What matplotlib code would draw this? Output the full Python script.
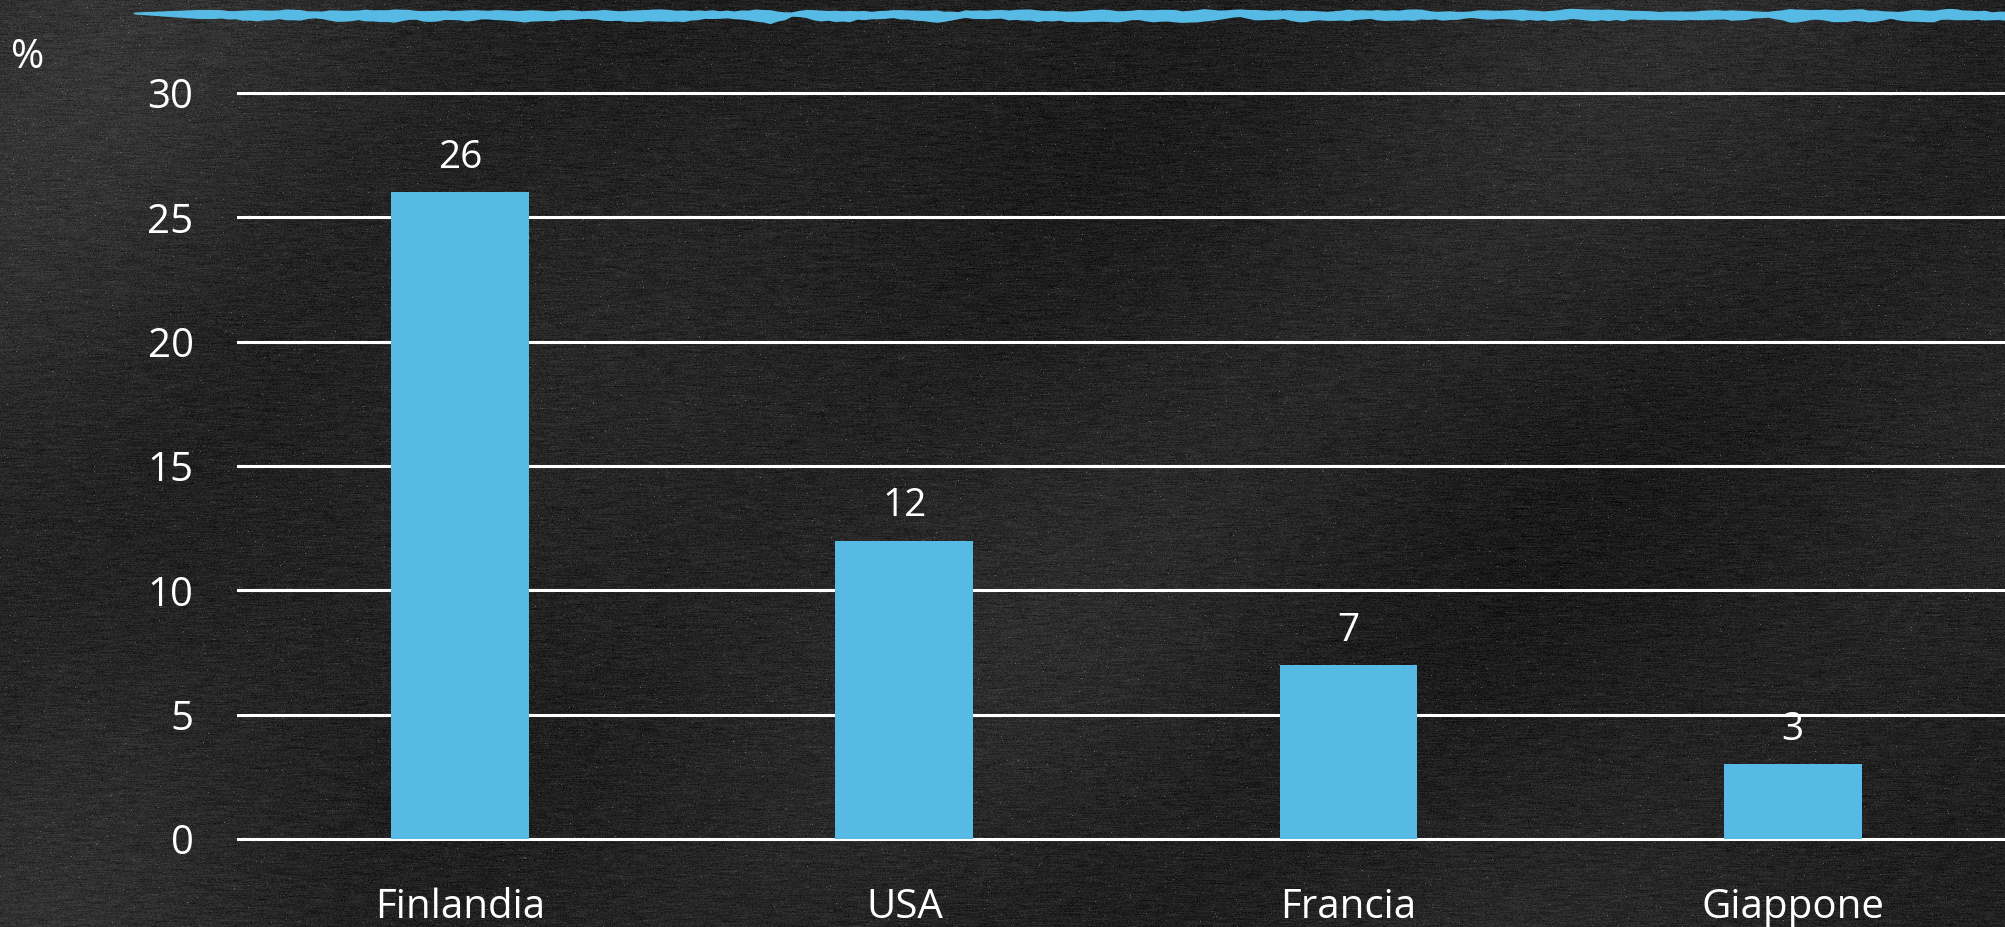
#!/usr/bin/env python3
"""Bar chart on a chalkboard background: share (%) by country."""

import matplotlib

matplotlib.use("Agg")
import matplotlib.pyplot as plt
import numpy as np

countries = ["Finlandia", "USA", "Francia", "Giappone"]
values = [26, 12, 7, 3]
y_ticks = [0, 5, 10, 15, 20, 25, 30]

BAR_COLOR = "#56BAE4"
FONT = ["Open Sans", "DejaVu Sans"]
W, H, DPI = 2006, 927, 100


def chalkboard(rng: np.random.Generator) -> np.ndarray:
    """Dark streaky board texture (grey levels in 0..1)."""
    noise = rng.normal(0.0, 1.0, (H, W))
    # smear along x to get horizontal chalk streaks
    k = np.ones(13) / 13.0
    streak = np.apply_along_axis(lambda r: np.convolve(r, k, mode="same"), 1, noise)
    fine = rng.normal(0.0, 1.0, (H, W))
    yy, xx = np.mgrid[0:H, 0:W]
    blotch = (0.025 * np.sin(xx / 230.0 + 0.7) * np.cos(yy / 170.0 - 0.4)
              + 0.015 * np.sin((xx + yy) / 120.0))
    left_glow = 0.035 * np.exp(-((xx - 40) / 200.0) ** 2)
    img = 0.14 + 0.06 * streak + 0.025 * fine + blotch + left_glow
    specks = rng.random((H, W)) > 0.998
    img[specks] += 0.22
    return np.clip(img, 0, 1)


def main() -> None:
    rng = np.random.default_rng(7)
    fig = plt.figure(figsize=(W / DPI, H / DPI), dpi=DPI)

    bg = fig.add_axes([0, 0, 1, 1])
    bg.imshow(chalkboard(rng), cmap="gray", vmin=0, vmax=1, aspect="auto",
              extent=(0, W, H, 0), interpolation="bilinear")
    bg.set_xlim(0, W)
    bg.set_ylim(H, 0)
    bg.axis("off")

    # rough painted stroke along the top edge
    xs = np.linspace(134, W, 260)
    top = 10.0 + np.convolve(rng.normal(0, 1.3, xs.size), np.ones(3) / 3, mode="same")
    bot = 20.0 + np.convolve(rng.normal(0, 2.0, xs.size), np.ones(3) / 3, mode="same")
    top[:10] = np.linspace(12.0, top[10], 10)
    bot[:10] = np.linspace(14.0, bot[10], 10)
    bg.fill_between(xs, top, bot, color=BAR_COLOR, lw=0)

    ax = fig.add_axes([238 / W, 88 / H, 1 - 238 / W, 746 / H])
    ax.set_facecolor("none")
    x = np.arange(len(countries))
    ax.set_axisbelow(True)
    ax.yaxis.grid(True, color="white", lw=2.2)
    bars = ax.bar(x, values, width=0.31, color=BAR_COLOR, zorder=3)
    for rect, v in zip(bars, values):
        ax.annotate(f"{v}", (rect.get_x() + rect.get_width() / 2, v),
                    xytext=(0, 11), textcoords="offset points",
                    ha="center", va="bottom", color="white",
                    fontsize=28, family=FONT)

    ax.set_xlim(-0.5, 3.48)
    ax.set_ylim(0, 30)
    ax.set_yticks(y_ticks)
    ax.set_xticks(x)
    ax.set_xticklabels(countries)
    for line in ax.get_ygridlines():
        line.set_clip_on(False)
    for s in ax.spines.values():
        s.set_visible(False)
    ax.tick_params(axis="y", length=0, pad=32, labelsize=29, labelcolor="white")
    ax.tick_params(axis="x", length=0, pad=35, labelsize=29, labelcolor="white")
    for lab in ax.get_xticklabels() + ax.get_yticklabels():
        lab.set_family(FONT)

    fig.text(28 / W, 1 - 58 / H, "%", color="white", fontsize=29, family=FONT,
             ha="center", va="center")

    fig.savefig("out.png", dpi=DPI)
    plt.close(fig)


if __name__ == "__main__":
    main()
